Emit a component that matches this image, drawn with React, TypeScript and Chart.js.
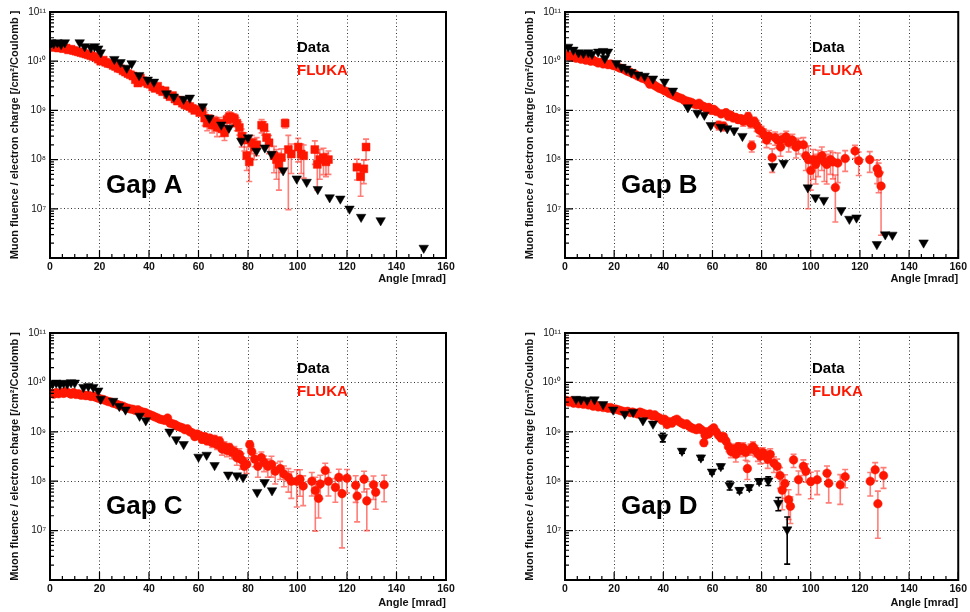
import React, { useEffect, useRef } from 'react';
import { Chart, registerables } from 'chart.js';

Chart.register(...registerables);

// ---------- axes ----------
const xTickStep = 20;
const xMinorStep = 5;
const xMin = 0;
const xMax = 160;
const yDecades = [1e6, 1e7, 1e8, 1e9, 1e10, 1e11];
const yTickLabels = ['', '10⁷', '10⁸', '10⁹', '10¹⁰', '10¹¹'];
const xTitle = 'Angle [mrad]';
const yTitle = 'Muon fluence / electron charge [/cm²/Coulomb ]';
const legendData = 'Data';
const legendFluka = 'FLUKA';

// ---------- data: [angle mrad, value, relative error] ----------
const dataA: number[][] = [
  [0.5, 2.4e10], [1.5, 2.3e10], [3, 2.4e10], [4.5, 2.2e10], [6, 2.4e10], [12, 2.4e10], [14, 2.0e10],
  [16.5, 1.9e10], [18, 2.0e10], [19.5, 1.8e10], [20.5, 1.5e10], [26, 1.1e10], [28.5, 9.5e9], [31, 7.3e9],
  [33, 9.0e9], [36, 5.2e9], [39.5, 4.2e9], [42, 3.8e9], [47, 2.2e9], [50, 1.9e9], [54, 1.7e9], [56.5, 1.8e9],
  [61.7, 1.2e9], [64.4, 7.0e8], [69.2, 5.1e8], [72.3, 4.4e8], [77.3, 2.4e8], [80, 2.8e8], [83.4, 1.5e8],
  [86.8, 1.75e8], [89.5, 1.3e8], [94.2, 6.0e7], [99.7, 4.1e7], [103.7, 3.5e7], [108.2, 2.5e7], [113, 1.7e7],
  [117.3, 1.6e7], [121, 1.0e7], [125.7, 6.8e6], [133.6, 5.8e6], [151, 1.6e6],
];
const flukaA: number[][] = [
  [0.5, 2.0e10], [1.5, 1.9e10], [2.5, 2.0e10], [3.5, 1.85e10], [4.5, 1.9e10], [5.5, 1.8e10], [6.5, 1.85e10],
  [7.5, 1.7e10], [8.5, 1.75e10], [9.5, 1.65e10], [10.5, 1.6e10], [11.5, 1.55e10], [12.5, 1.5e10], [13.5, 1.45e10],
  [14.5, 1.4e10], [15.5, 1.35e10], [16.5, 1.3e10], [17.5, 1.25e10], [18.5, 1.2e10], [19.5, 1.1e10], [20.5, 1.0e10],
  [21.5, 1.05e10], [22.5, 9.5e9], [23.5, 9.0e9], [24.5, 8.8e9], [25.5, 8.2e9], [26.5, 7.8e9], [27.5, 7.2e9],
  [28.5, 7.0e9], [29.5, 6.4e9], [30.5, 6.0e9], [31.5, 5.6e9], [32.5, 5.3e9], [33.5, 5.0e9], [34.5, 4.2e9],
  [35.5, 3.6e9], [36.5, 4.6e9], [37.5, 4.0e9], [38.5, 3.8e9], [39.5, 3.5e9], [40.5, 3.4e9], [41.5, 3.0e9],
  [42.5, 2.8e9], [43.5, 3.1e9], [44.5, 2.6e9], [45.5, 2.4e9], [46.5, 2.5e9], [47.5, 2.1e9], [48.5, 1.9e9],
  [49.5, 2.0e9], [50.5, 1.7e9], [51.5, 1.55e9], [52.5, 1.6e9], [53.5, 1.4e9], [54.5, 1.3e9], [55.5, 1.25e9],
  [56.5, 1.2e9], [57.5, 1.1e9], [58.5, 1.0e9], [59.5, 1.05e9], [60.5, 9.0e8], [61.5, 9.5e8],
  [62.5, 7.0e8, 0.3], [63.5, 5.5e8, 0.3], [64.5, 6.5e8, 0.25], [65.5, 5.0e8, 0.3], [66.5, 6.0e8, 0.25],
  [67.5, 4.5e8, 0.35], [68.5, 5.5e8, 0.3], [69.5, 4.2e8, 0.3], [70.5, 3.5e8, 0.3], [71.5, 6.5e8, 0.25],
  [72.5, 7.5e8, 0.25], [73.5, 7.0e8, 0.25], [74.5, 6.8e8, 0.25], [75.5, 5.5e8, 0.3], [76.5, 4.5e8, 0.3],
  [77.5, 3.0e8, 0.4], [78.5, 2.5e8, 0.4], [79.5, 1.2e8, 0.5], [80.5, 9.0e7, 0.6], [81.5, 2.2e8, 0.4],
  [82.5, 1.8e8, 0.45], [83.5, 2.0e8, 0.4], [85.5, 5.0e8, 0.3], [86.5, 4.5e8, 0.3], [87.5, 2.8e8, 0.35],
  [88.5, 2.2e8, 0.4], [90.5, 1.2e8, 0.55], [91.5, 1.0e8, 0.6], [92.5, 8.0e7, 0.7], [93.5, 1.1e8, 0.5],
  [95, 5.5e8, 0.2], [96.3, 1.6e8, 0.94], [97.5, 1.3e8, 0.6], [100.3, 1.8e8, 0.5], [101.5, 1.3e8, 0.6],
  [102.5, 1.2e8, 0.65], [107, 1.6e8, 0.5], [108, 8.0e7, 0.7], [109, 1.0e8, 0.6], [110.5, 1.1e8, 0.55],
  [111.5, 9.0e7, 0.5], [112.5, 1.0e8, 0.5], [124, 7.0e7, 0.45], [125.5, 4.5e7, 0.6], [126.8, 6.5e7, 0.5],
  [127.7, 1.8e8, 0.45],
];

const dataB: number[][] = [
  [1.3, 1.95e10], [3.4, 1.7e10], [5.5, 1.5e10], [7.5, 1.45e10], [9.5, 1.5e10], [11, 1.4e10], [13.5, 1.55e10],
  [15.5, 1.6e10], [16.2, 1.15e10], [17.5, 1.55e10], [20.9, 9.1e9], [23, 7.6e9], [25, 7.0e9], [27, 6.0e9],
  [29.7, 5.3e9], [32.4, 5.0e9], [35.8, 4.4e9], [40.5, 3.8e9], [43.9, 2.5e9], [50, 1.15e9], [53.8, 8.9e8],
  [56.7, 8.1e8], [59.3, 5.0e8], [63.4, 4.6e8], [66, 4.3e8], [68.8, 3.9e8], [72.2, 3.0e8], [84.6, 7.3e7],
  [89, 8.5e7], [98.8, 2.7e7], [101.9, 1.7e7], [105.3, 1.5e7], [112.4, 9.3e6], [115.7, 6.2e6], [118.6, 6.6e6],
  [126.9, 1.9e6], [130.3, 3.0e6], [133.2, 2.95e6], [145.9, 2.05e6],
];
const flukaB: number[][] = [
  [0.5, 1.35e10], [1.5, 1.25e10], [2.5, 1.3e10], [3.5, 1.2e10], [4.5, 1.15e10], [5.5, 1.2e10], [6.5, 1.1e10],
  [7.5, 1.15e10], [8.5, 1.05e10], [9.5, 1.1e10], [10.5, 1.0e10], [11.5, 1.05e10], [12.5, 9.8e9], [13.5, 9.2e9],
  [14.5, 9.5e9], [15.5, 8.8e9], [16.5, 9.0e9], [17.5, 8.5e9], [18.5, 8.8e9], [19.5, 8.2e9], [20.5, 8.0e9],
  [21.5, 7.6e9], [22.5, 7.2e9], [23.5, 7.0e9], [24.5, 6.6e9], [25.5, 6.2e9], [26.5, 6.0e9], [27.5, 5.6e9],
  [28.5, 5.4e9], [29.5, 5.0e9], [30.5, 4.8e9], [31.5, 4.5e9], [32.5, 4.4e9], [33.5, 4.0e9], [34.5, 3.4e9],
  [35.5, 3.6e9], [36.5, 3.2e9], [37.5, 3.0e9], [38.5, 2.8e9], [39.5, 2.7e9], [40.5, 2.5e9], [41.5, 2.4e9],
  [42.5, 2.2e9], [43.5, 2.1e9], [44.5, 2.0e9], [45.5, 1.9e9], [46.5, 1.8e9], [47.5, 1.75e9], [48.5, 1.6e9],
  [49.5, 1.55e9], [50.5, 1.5e9], [51.5, 1.45e9], [52.5, 1.35e9], [53.5, 1.3e9], [54.5, 1.4e9], [55.5, 1.25e9],
  [56.5, 1.2e9], [57.5, 1.1e9], [58.5, 1.15e9], [59.5, 1.0e9], [60.5, 1.05e9], [61.5, 9.5e8],
  [62.5, 5.0e8, 0.2], [63.5, 8.5e8], [64.5, 4.8e8, 0.2], [65.5, 9.0e8], [66.5, 7.5e8], [67.5, 8.0e8],
  [68.5, 7.0e8, 0.15], [69.5, 7.2e8], [70.5, 6.5e8, 0.15], [71.5, 6.8e8, 0.15], [72.5, 6.0e8, 0.2],
  [73.5, 6.5e8, 0.2], [74.5, 7.5e8, 0.2], [75.5, 5.5e8, 0.2], [76, 1.9e8, 0.25], [77, 6.0e8, 0.2],
  [78, 5.0e8, 0.25], [79, 4.0e8, 0.25], [80, 3.8e8, 0.25], [81, 3.2e8, 0.3], [82, 2.5e8, 0.3], [83, 3.0e8, 0.3],
  [84.3, 1.1e8, 0.5], [85.5, 2.8e8, 0.3], [86.5, 2.5e8, 0.3], [87.7, 1.8e8, 0.35], [88.5, 2.6e8, 0.3],
  [90, 2.9e8, 0.3], [91, 2.2e8, 0.35], [92.5, 2.5e8, 0.3], [94, 1.8e8, 0.4], [95, 2.0e8, 0.35], [97, 2.0e8, 0.4],
  [98, 1.2e8, 0.5], [99, 1.0e8, 0.9], [100, 6.0e7, 0.6], [101, 1.0e8, 0.6], [102, 8.0e7, 0.6], [103, 1.0e8, 0.55],
  [104.5, 1.2e8, 0.5], [105.5, 9.0e7, 0.6], [106.5, 8.0e7, 0.6], [108, 1.0e8, 0.5], [109, 9.0e7, 0.55],
  [110, 2.7e7, 0.8], [111, 8.5e7, 0.6], [114, 1.05e8, 0.45], [118, 1.5e8, 0.3], [119.5, 9.5e7, 0.5],
  [124, 1.0e8, 0.45], [127, 6.5e7, 0.5], [127.6, 5.3e7, 0.6], [128.6, 2.9e7, 0.9],
];

const dataC: number[][] = [
  [1, 9.5e9], [2.5, 9.8e9], [4, 9.2e9], [5.5, 9.7e9], [7, 9.4e9], [8.5, 1.0e10], [10, 9.8e9], [13.5, 8.0e9],
  [15.5, 8.4e9], [17.5, 8.0e9], [19.5, 6.8e9], [20.5, 4.6e9], [25.5, 4.2e9], [28, 3.3e9], [30.5, 2.8e9],
  [36.2, 2.1e9], [38.7, 1.7e9], [48.3, 1.0e9], [51, 7.0e8], [54, 5.6e8], [60, 3.1e8], [63.3, 3.4e8],
  [66.5, 2.1e8], [72, 1.35e8], [75.5, 1.3e8], [78, 1.2e8], [83.7, 6.0e7], [86.7, 9.5e7], [89.7, 6.5e7],
];
const flukaC: number[][] = [
  [0.5, 6.0e9], [1.5, 5.8e9], [2.5, 6.2e9], [3.5, 5.9e9], [4.5, 6.3e9], [5.5, 6.0e9], [6.5, 6.5e9], [7.5, 6.1e9],
  [8.5, 5.8e9], [9.5, 6.2e9], [10.5, 5.7e9], [11.5, 5.9e9], [12.5, 5.5e9], [13.5, 5.6e9], [14.5, 5.4e9],
  [15.5, 5.5e9], [16.5, 5.2e9], [17.5, 5.3e9], [18.5, 5.0e9], [19.5, 4.8e9], [20.5, 4.6e9], [21.5, 4.5e9],
  [22.5, 4.3e9], [23.5, 4.1e9], [24.5, 4.0e9], [25.5, 3.8e9], [26.5, 3.7e9], [27.5, 3.5e9], [28.5, 3.4e9],
  [29.5, 3.3e9], [30.5, 3.1e9], [31.5, 3.0e9], [32.5, 2.9e9], [33.5, 2.85e9], [34.5, 2.7e9], [35.5, 2.8e9],
  [36.5, 2.6e9], [37.5, 2.5e9], [38.5, 2.45e9], [39.5, 2.3e9], [40.5, 2.2e9], [41.5, 2.1e9], [42.5, 2.0e9],
  [43.5, 1.9e9], [44.5, 1.8e9], [45.5, 1.75e9], [46.5, 1.7e9], [47.5, 1.9e9], [48.5, 1.5e9], [49.5, 1.45e9],
  [50.5, 1.4e9], [51.5, 1.3e9], [52.5, 1.25e9], [53.5, 1.2e9], [54.5, 1.1e9], [55.5, 1.15e9], [56.5, 1.0e9],
  [57.5, 9.5e8], [58.5, 8.0e8], [59.5, 9.0e8], [60.5, 8.5e8], [61.5, 7.0e8, 0.15], [62.5, 8.0e8, 0.15],
  [63.5, 6.5e8, 0.15], [64.5, 7.5e8, 0.15], [65.5, 6.0e8, 0.2], [66.5, 7.0e8, 0.2], [67.5, 5.5e8, 0.2],
  [68.5, 6.5e8, 0.2], [69.5, 4.5e8, 0.25], [70.5, 5.0e8, 0.25], [71.5, 4.2e8, 0.25], [72.5, 4.8e8, 0.2],
  [73.5, 3.8e8, 0.25], [74.5, 4.0e8, 0.25], [75.5, 3.0e8, 0.3], [76.5, 3.5e8, 0.3], [77.5, 2.7e8, 0.35],
  [78.5, 2.0e8, 0.4], [79.5, 2.2e8, 0.35], [80.7, 5.5e8, 0.2], [81.5, 4.0e8, 0.25], [82.7, 2.8e8, 0.3],
  [84, 2.0e8, 0.4], [85.4, 3.0e8, 0.3], [86.5, 2.4e8, 0.35], [88, 2.0e8, 0.4], [89.5, 2.2e8, 0.45],
  [91, 1.6e8, 0.45], [93, 1.8e8, 0.4], [94.5, 1.4e8, 0.45], [96.3, 1.2e8, 0.5], [97.5, 1.0e8, 0.55],
  [99.7, 1.0e8, 0.7], [101, 1.1e8, 0.55], [102.3, 8.0e7, 0.6], [105.8, 1.0e8, 0.5], [107.2, 6.5e7, 0.85],
  [108.5, 4.5e7, 0.6], [109.2, 8.8e7, 0.5], [111.2, 1.65e8, 0.4], [112.5, 1.0e8, 0.5], [115.3, 7.5e7, 0.5],
  [116.7, 1.2e8, 0.45], [118, 5.6e7, 0.92], [120, 1.15e8, 0.5], [123.5, 8.3e7, 0.55], [124.1, 5.0e7, 0.7],
  [126.9, 1.1e8, 0.45], [128, 4.0e7, 0.75], [130.7, 8.5e7, 0.5], [131.6, 6.0e7, 0.55], [135, 8.5e7, 0.55],
];

const dataD: number[][] = [
  [4.5, 4.6e9], [6.5, 4.5e9], [9, 4.4e9], [12, 4.5e9], [15.5, 3.6e9], [19.6, 2.8e9], [24.3, 2.3e9],
  [27.7, 2.5e9], [31.7, 1.7e9], [35.8, 1.45e9], [39.8, 7.8e8, 0.2], [47.6, 4.1e8, 0.1], [55.3, 3.0e8, 0.1],
  [59.8, 1.55e8, 0.1], [63.4, 2.0e8, 0.1], [67, 8.3e7, 0.2], [71, 6.6e7, 0.12], [75, 7.5e7, 0.12],
  [79, 1.0e8, 0.12], [82.7, 1.02e8, 0.2], [86.8, 3.6e7, 0.3], [90.4, 1.05e7, 0.8],
];
const flukaD: number[][] = [
  [0.5, 4.3e9], [1.5, 4.0e9], [2.5, 4.2e9], [3.5, 3.8e9], [4.5, 4.0e9], [5.5, 3.7e9], [6.5, 3.9e9], [7.5, 3.6e9],
  [8.5, 3.8e9], [9.5, 3.5e9], [10.5, 3.6e9], [11.5, 3.3e9], [12.5, 3.5e9], [13.5, 3.2e9], [14.5, 3.3e9],
  [15.5, 3.1e9], [16.5, 3.2e9], [17.5, 3.0e9], [18.5, 3.1e9], [19.5, 2.9e9], [20.5, 2.9e9], [21.5, 2.8e9],
  [22.5, 2.7e9], [23.5, 2.6e9], [24.5, 2.5e9], [25.5, 2.6e9], [26.5, 2.45e9], [27.5, 2.5e9], [28.5, 2.4e9],
  [29.5, 2.3e9], [30.5, 2.5e9], [31.5, 2.4e9], [32.5, 2.3e9], [33.5, 2.2e9], [34.5, 2.3e9], [35.5, 2.1e9],
  [36.5, 2.2e9], [37.5, 2.0e9], [38.5, 1.9e9], [39.5, 1.7e9], [40.5, 1.8e9], [41.5, 1.4e9], [42.5, 1.6e9],
  [43.5, 1.5e9], [44.5, 1.7e9], [45.5, 1.8e9], [46.5, 1.6e9], [47.5, 1.5e9], [48.5, 1.4e9], [49.5, 1.45e9],
  [50.5, 1.3e9], [51.5, 1.2e9], [52.5, 1.15e9], [53.5, 1.1e9], [54.5, 1.2e9], [55.5, 1.1e9], [56.5, 6.0e8, 0.15],
  [57, 8.5e8, 0.15], [57.5, 1.0e9], [58.5, 9.0e8], [59.5, 1.1e9], [60.5, 1.2e9], [61.5, 1.0e9],
  [62.5, 8.5e8, 0.1], [63.5, 7.5e8, 0.15], [64.5, 8.0e8, 0.15], [65.5, 6.5e8, 0.15], [66.5, 5.0e8, 0.2],
  [67.5, 4.0e8, 0.25], [68.5, 4.5e8, 0.25], [69.5, 3.5e8, 0.3], [70.5, 5.0e8, 0.2], [71.5, 4.2e8, 0.25],
  [72.5, 4.8e8, 0.25], [73.5, 3.8e8, 0.3], [74.2, 1.8e8, 0.4], [75.5, 4.5e8, 0.25], [76.5, 5.0e8, 0.25],
  [77.5, 4.2e8, 0.25], [78.5, 3.6e8, 0.3], [79.5, 3.2e8, 0.3], [80.5, 3.8e8, 0.25], [81.5, 3.3e8, 0.3],
  [82.5, 2.8e8, 0.35], [83.5, 3.5e8, 0.3], [85, 2.3e8, 0.35], [86.3, 2.0e8, 0.4], [87.5, 1.3e8, 0.45],
  [88.4, 6.6e7, 0.6], [89.5, 9.0e7, 0.5], [91, 4.2e7, 0.6], [91.7, 3.1e7, 0.55], [93, 2.7e8, 0.3],
  [95, 1.07e8, 0.5], [97, 2.0e8, 0.35], [98, 1.6e8, 0.4], [100, 9.8e7, 0.55], [102.6, 1.07e8, 0.5],
  [106.6, 1.45e8, 0.4], [107.3, 9.1e7, 0.6], [112, 8.5e7, 0.6], [114, 1.23e8, 0.4], [124.2, 1.0e8, 0.5],
  [126.2, 1.7e8, 0.4], [127.3, 3.5e7, 0.8], [129.6, 1.3e8, 0.45],
];

const panelNames = ['Gap A', 'Gap B', 'Gap C', 'Gap D'];
const panelData = [dataA, dataB, dataC, dataD];
const panelFluka = [flukaA, flukaB, flukaC, flukaD];

// ---------- styling ----------
const FONT = "'Liberation Sans', Arial, Helvetica, sans-serif";
const RED = 'rgb(255, 22, 0)';
const RED_ERR = 'rgba(255, 40, 30, 0.6)';
const DEFAULT_ERR = 0.1;

type Layout = {
  left: number; top: number; pad: { left: number; top: number; right: number; bottom: number };
  xH: number; marker: string; mr: number; showDataErr: boolean;
};
const layouts: Layout[] = [
  { left: 0, top: 0, pad: { left: 0, top: 12, right: 39, bottom: 20 }, xH: 28, marker: 'rect', mr: 5.6, showDataErr: false },
  { left: 485, top: 0, pad: { left: 30, top: 12, right: 10, bottom: 20 }, xH: 28, marker: 'circle', mr: 4.3, showDataErr: false },
  { left: 0, top: 306, pad: { left: 0, top: 27, right: 39, bottom: 2 }, xH: 30, marker: 'circle', mr: 4.3, showDataErr: false },
  { left: 485, top: 306, pad: { left: 30, top: 27, right: 10, bottom: 2 }, xH: 30, marker: 'circle', mr: 4.3, showDataErr: true },
];

function drawErrors(chart: any, pts: number[][], color: string, defErr: number) {
  const { ctx, chartArea: ca } = chart;
  const xs = chart.scales.x;
  const ys = chart.scales.y;
  ctx.save();
  ctx.beginPath();
  ctx.rect(ca.left, ca.top, ca.right - ca.left, ca.bottom - ca.top);
  ctx.clip();
  ctx.strokeStyle = color;
  ctx.lineWidth = 1.6;
  for (const p of pts) {
    const f = p[2] !== undefined ? p[2] : defErr;
    if (!f) continue;
    const lo = Math.max(p[1] * (1 - f), 1e5);
    const hi = p[1] * (1 + f);
    const px = xs.getPixelForValue(p[0]);
    const y1 = ys.getPixelForValue(lo);
    const y2 = ys.getPixelForValue(hi);
    ctx.beginPath();
    ctx.moveTo(px, y1);
    ctx.lineTo(px, y2);
    ctx.moveTo(px - 3, y1);
    ctx.lineTo(px + 3, y1);
    ctx.moveTo(px - 3, y2);
    ctx.lineTo(px + 3, y2);
    ctx.stroke();
  }
  ctx.restore();
}

function Panel({ idx }: { idx: number }) {
  const ref = useRef<HTMLCanvasElement>(null);
  const lay = layouts[idx];
  useEffect(() => {
    if (!ref.current) return;
    const fluka = panelFluka[idx];
    const data = panelData[idx];
    const name = panelNames[idx];
    const errPlugin = {
      id: 'errBars' + idx,
      beforeDatasetsDraw(chart: any) {
        drawErrors(chart, fluka, RED_ERR, DEFAULT_ERR);
      },
      afterDatasetsDraw(chart: any) {
        if (lay.showDataErr) drawErrors(chart, data, '#000', 0);
      },
    };
    const framePlugin = {
      id: 'frame' + idx,
      afterDraw(chart: any) {
        const { ctx, chartArea: ca } = chart;
        const xs = chart.scales.x;
        const ys = chart.scales.y;
        ctx.save();
        // inner ticks
        ctx.strokeStyle = '#000';
        ctx.lineWidth = 1.2;
        ctx.beginPath();
        for (let a = xMin; a <= xMax; a += xMinorStep) {
          const px = xs.getPixelForValue(a);
          const len = a % xTickStep === 0 ? 8 : 4;
          ctx.moveTo(px, ca.bottom);
          ctx.lineTo(px, ca.bottom - len);
        }
        for (let i = 0; i < yDecades.length; i++) {
          const d = yDecades[i];
          const py = ys.getPixelForValue(d);
          ctx.moveTo(ca.left, py);
          ctx.lineTo(ca.left + 8, py);
          if (i < yDecades.length - 1) {
            for (let m = 2; m <= 9; m++) {
              const pm = ys.getPixelForValue(m * d);
              ctx.moveTo(ca.left, pm);
              ctx.lineTo(ca.left + 4, pm);
            }
          }
        }
        ctx.stroke();
        // frame
        ctx.lineWidth = 2;
        ctx.strokeRect(ca.left, ca.top, ca.right - ca.left, ca.bottom - ca.top);
        // texts
        ctx.textAlign = 'left';
        ctx.textBaseline = 'alphabetic';
        ctx.fillStyle = '#000';
        ctx.font = `bold 26px ${FONT}`;
        ctx.fillText(name, ca.left + 56, ca.top + 181);
        ctx.font = `bold 15px ${FONT}`;
        ctx.fillText(legendData, ca.left + 247, ca.top + 40);
        ctx.fillStyle = RED;
        ctx.fillText(legendFluka, ca.left + 247, ca.top + 63);
        ctx.restore();
      },
    };
    const chart = new Chart(ref.current, {
      type: 'scatter',
      data: {
        datasets: [
          {
            label: legendData,
            data: data.map((p) => ({ x: p[0], y: p[1] })),
            pointStyle: 'triangle',
            rotation: 180,
            pointRadius: 5.5,
            backgroundColor: '#000',
            borderColor: '#000',
            borderWidth: 0.5,
            order: 0,
          },
          {
            label: legendFluka,
            data: fluka.map((p) => ({ x: p[0], y: p[1] })),
            pointStyle: lay.marker as any,
            pointRadius: lay.mr,
            backgroundColor: RED,
            borderColor: RED,
            borderWidth: 0.5,
            order: 1,
          },
        ],
      },
      options: {
        animation: false,
        responsive: false,
        devicePixelRatio: 1,
        events: [],
        layout: { padding: lay.pad },
        plugins: { legend: { display: false }, tooltip: { enabled: false } },
        scales: {
          x: {
            type: 'linear',
            min: xMin,
            max: xMax,
            afterFit: (s: any) => { s.height = lay.xH; },
            ticks: {
              stepSize: xTickStep,
              maxRotation: 0,
              autoSkip: false,
              padding: 3,
              color: '#111',
              font: { family: FONT, size: 10.5, weight: 'bold' },
            },
            grid: { color: '#333', lineWidth: 1, drawTicks: false },
            border: { display: false, dash: [1, 2.5] },
            title: {
              display: true,
              text: xTitle,
              align: 'end',
              color: '#111',
              padding: 0,
              font: { family: FONT, size: 11, weight: 'bold' },
            },
          },
          y: {
            type: 'logarithmic',
            min: yDecades[0],
            max: yDecades[yDecades.length - 1],
            afterFit: (s: any) => { s.width = 50; },
            afterBuildTicks: (s: any) => { s.ticks = yDecades.map((v) => ({ value: v, major: true })); },
            ticks: {
              autoSkip: false,
              padding: 4,
              color: '#111',
              font: { family: FONT, size: 10 },
              callback: (_v: any, i: number) => yTickLabels[i],
            },
            grid: { color: '#333', lineWidth: 1, drawTicks: false },
            border: { display: false, dash: [1, 2.5] },
            title: {
              display: true,
              text: yTitle,
              align: 'center',
              color: '#111',
              padding: { top: 8.4, bottom: 0 },
              font: { family: FONT, size: 11, weight: 'bold' },
            },
          },
        },
      },
      plugins: [errPlugin, framePlugin],
    } as any);
    return () => chart.destroy();
  }, [idx]);
  return (
    <canvas
      ref={ref}
      width={485}
      height={306}
      style={{ position: 'absolute', left: lay.left, top: lay.top, width: 485, height: 306 }}
    />
  );
}

export default function App() {
  return (
    <div style={{ position: 'absolute', left: 0, top: 0, width: 970, height: 612, background: '#fff', overflow: 'hidden' }}>
      {[0, 1, 2, 3].map((i) => (
        <Panel key={i} idx={i} />
      ))}
    </div>
  );
}
